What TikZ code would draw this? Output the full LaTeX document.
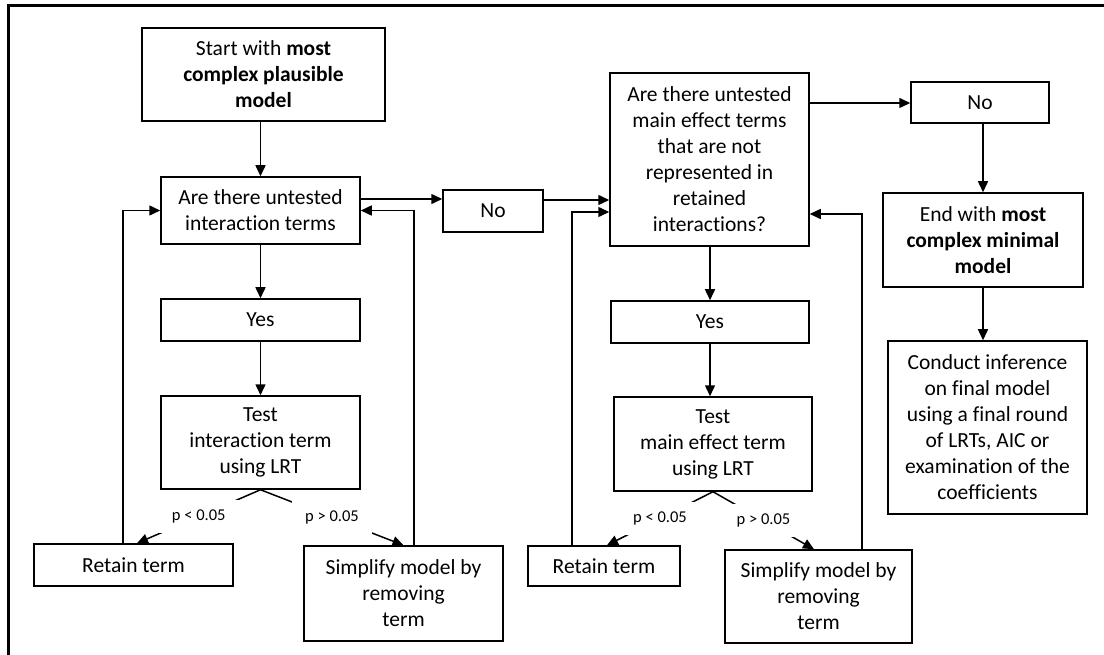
\documentclass[tikz,border=0pt]{standalone}
\usepackage{fontspec}
\setmainfont{Carlito}[Ligatures=NoCommon]
\usetikzlibrary{arrows.meta}

\tikzset{
  box/.style={draw, line width=1.5pt, rectangle, inner sep=0pt, align=center,
    font=\fontsize{21.5}{26}\selectfont},
  arr/.style={line width=1.5pt, -{Triangle[length=11pt,width=10pt]}},
  plabel/.style={fill=white, inner sep=0pt, minimum width=80pt, minimum height=33pt,
    font=\fontsize{16.5}{19}\selectfont}
}

\begin{document}
\begin{tikzpicture}[x=1pt,y=-1pt]
\useasboundingbox (0,0) rectangle (1104,655);

% outer frame (top and left edges)
\draw[line width=2.5pt] (8.7,655) -- (8.7,5.7) -- (1104,5.7);

% interaction-term stage
\node[box, minimum width=243pt, minimum height=93pt] (start) at (263.5,74.5)
  {Start with \textbf{most}\\ \textbf{complex plausible}\\ \textbf{model}};
\node[box, minimum width=199pt, minimum height=67pt] (q1) at (260.5,210.5)
  {Are there untested\\ interaction terms};
\node[box, minimum width=199pt, minimum height=42pt] (yes1) at (260.5,320) {Yes};
\node[box, minimum width=199pt, minimum height=93pt] (test1) at (260.5,442.5)
  {Test\\ interaction term\\ using LRT};
\node[box, minimum width=199pt, minimum height=42pt] (ret1) at (133.5,565) {Retain term};
\node[box, minimum width=199pt, minimum height=95pt] (simp1) at (403.5,593.5)
  {Simplify model by\\ removing\\ term};
\node[box, minimum width=100pt, minimum height=42pt] (no1) at (493,211) {No};

% main-effect stage
\node[box, minimum width=199pt, minimum height=173pt] (q2) at (709.5,159.5)
  {Are there untested\\ main effect terms\\ that are not\\ represented in\\ retained\\ interactions?};
\node[box, minimum width=198pt, minimum height=42pt] (yes2) at (710,322) {Yes};
\node[box, minimum width=198pt, minimum height=94pt] (test2) at (713,444)
  {Test\\ main effect term\\ using LRT};
\node[box, minimum width=152pt, minimum height=40pt] (ret2) at (604,566) {Retain term};
\node[box, minimum width=187pt, minimum height=93pt] (simp2) at (818.5,596.5)
  {Simplify model by\\ removing\\ term};

% final stage
\node[box, minimum width=138pt, minimum height=41pt] (no2) at (980,102.5) {No};
\node[box, minimum width=200pt, minimum height=94pt] (end) at (983,240)
  {End with \textbf{most}\\ \textbf{complex minimal}\\ \textbf{model}};
\node[box, minimum width=199pt, minimum height=173pt] (conduct) at (987.5,427.5)
  {Conduct inference\\ on final model\\ using a final round\\ of LRTs, AIC or\\ examination of the\\ coefficients};

% connectors: interaction stage
\draw[arr] (start.south -| q1.north) -- (q1.north);
\draw[arr] (q1.south) -- (yes1.north);
\draw[arr] (yes1.south) -- (test1.north);
\draw[arr] (test1.south) -- node[plabel] {p < 0.05} ([xshift=3.5pt]ret1.north);
\draw[arr] (test1.south) -- node[plabel] {p > 0.05} (simp1.north);
\draw[arr] ([xshift=-10.5pt]ret1.north) |- (q1.west);
\draw[arr] ([xshift=10.5pt]simp1.north) |- (q1.east);
\draw[arr] ([yshift=11.5pt]q1.east) -- ([yshift=11.5pt]q1.east -| no1.west);
\draw[arr] ([yshift=11pt]no1.east) -- ([yshift=11pt]no1.east -| q2.west);

% connectors: main-effect stage
\draw[arr] (yes2.north |- q2.south) -- (yes2.north);
\draw[arr] (yes2.south) -- (yes2.south |- test2.north);
\draw[arr] (test2.south) -- node[plabel] {p < 0.05} ([xshift=3pt]ret2.north);
\draw[arr] (test2.south) -- node[plabel] {p > 0.05} ([xshift=-4.5pt]simp2.north);
\draw[arr] ([xshift=-32pt]ret2.north) |- ([yshift=-52.5pt]q2.west);
\draw[arr] ([xshift=43.5pt]simp2.north) |- ([yshift=-54.5pt]q2.east);

% connectors: final stage
\draw[arr] ([yshift=56.5pt]q2.east) -- ([yshift=56.5pt]q2.east -| no2.west);
\draw[arr] (end.north |- no2.south) -- (end.north);
\draw[arr] (end.south) -- (end.south |- conduct.north);
\end{tikzpicture}
\end{document}
